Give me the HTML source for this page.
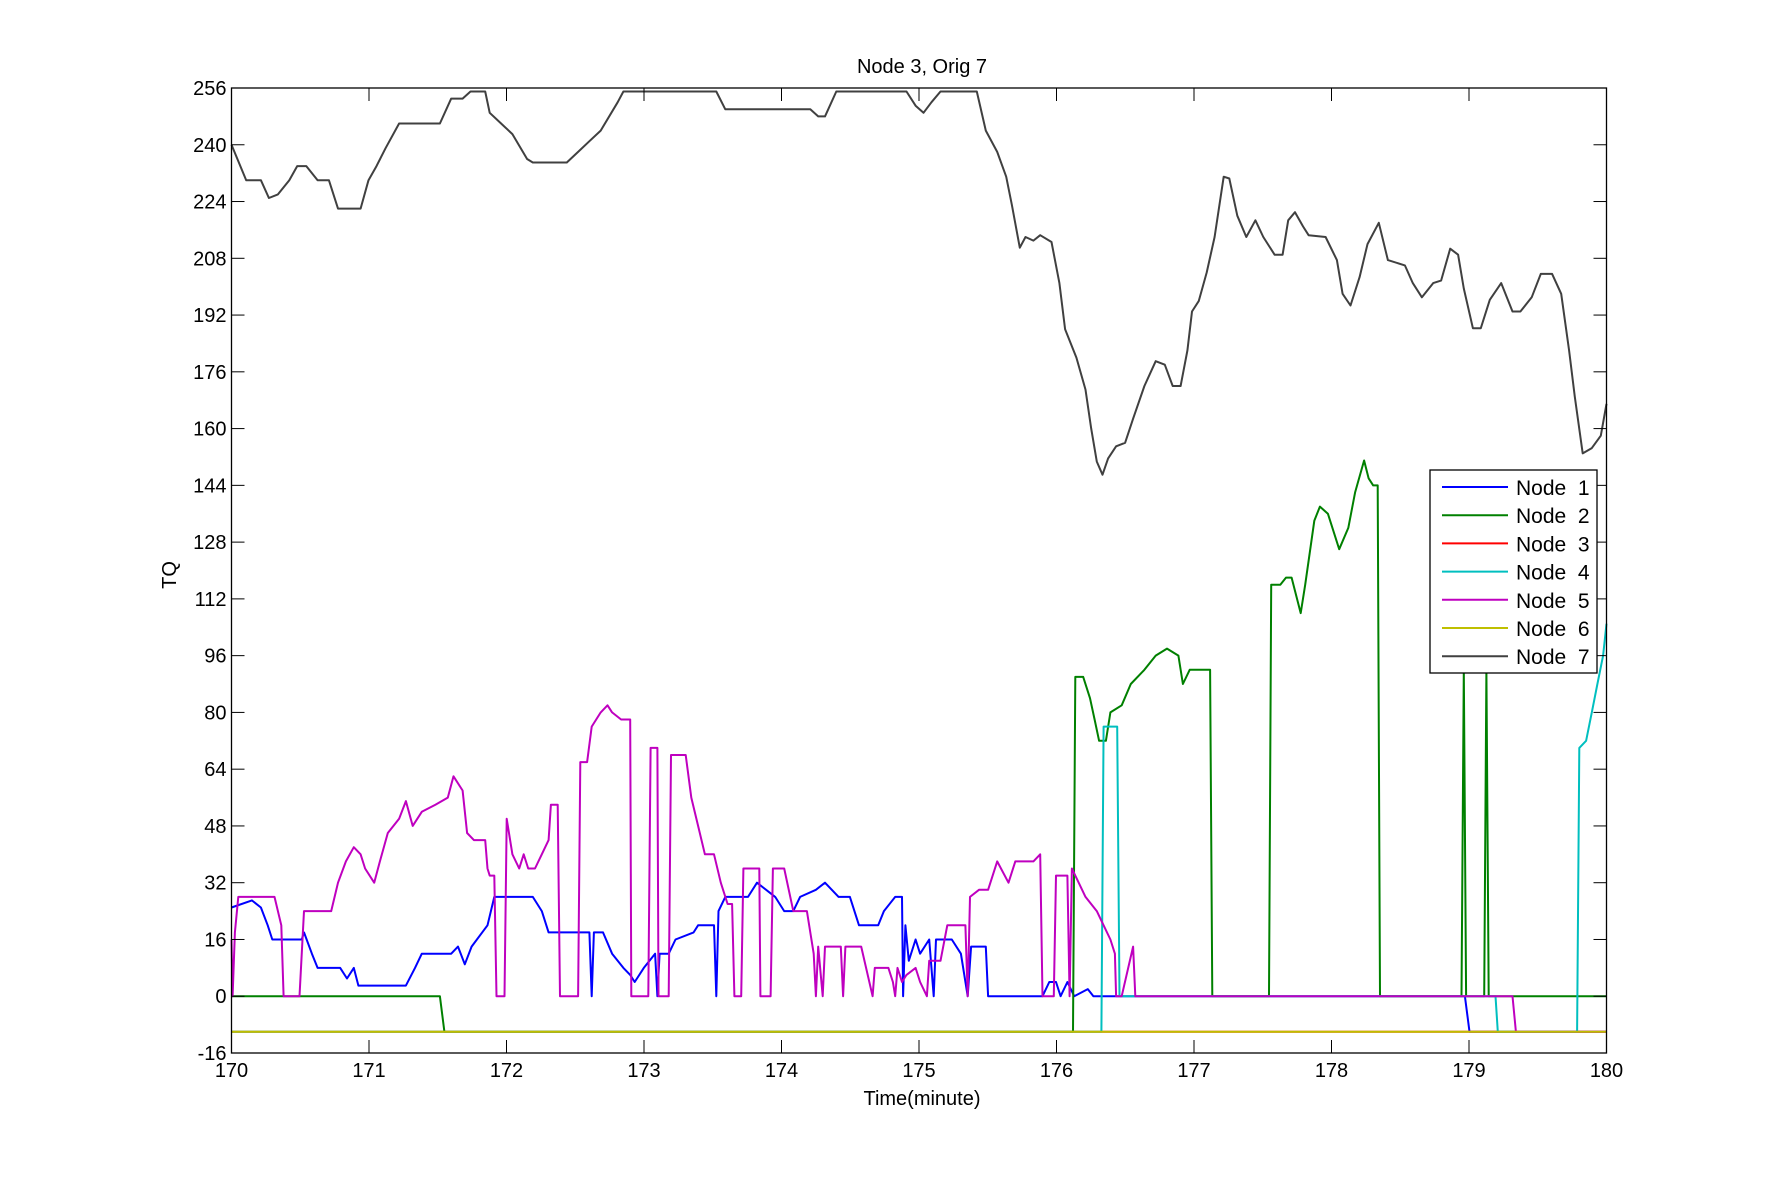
<!DOCTYPE html>
<html><head><meta charset="utf-8"><style>
html,body{margin:0;padding:0;background:#fff;}
svg{display:block;font-family:"Liberation Sans",Arial,sans-serif;}
</style></head><body>
<svg id="chart" width="1775" height="1183" viewBox="0 0 1775 1183">
<rect x="0" y="0" width="1775" height="1183" fill="#fff"/>
<text x="922" y="73" font-size="20" text-anchor="middle">Node 3, Orig 7</text>
<text x="922" y="1105" font-size="20" text-anchor="middle">Time(minute)</text>
<text x="0" y="0" font-size="20" text-anchor="middle" transform="translate(176,575) rotate(-90)">TQ</text>
<g id="series"></g>
<g id="axes"></g>
<g id="legend"></g>
</svg>
<script>
const xTicks=[170,171,172,173,174,175,176,177,178,179,180];
const yTicks=[256,240,224,208,192,176,160,144,128,112,96,80,64,48,32,16,0,-16];
const seriesNames=["Node  1","Node  2","Node  3","Node  4","Node  5","Node  6","Node  7"];
const seriesColors=["#0000ff","#008000","#ff0000","#00bfbf","#bf00bf","#bfbf00","#404040"];
const n7x=[204,217,230,237,245,255,262,270,280,290,298,318,325,332,340,352,388,398,408,415,428,432,442,452,465,470,500,510,520,530,545,550,632,640,715,722,728,738,800,808,815,822,830,862,870,880,888,893,900,905,912,918,928,935,940,950,958,963,968,973,978,985,993,1000,1010,1020,1028,1035,1042,1048,1052,1058,1065,1072,1080,1085,1092,1100,1108,1115,1125,1132,1137,1143,1150,1155,1170,1180,1185,1192,1200,1207,1217,1225,1240,1247,1255,1265,1272,1280,1287,1292,1300,1307,1315,1325,1335,1342,1352,1360,1370,1378,1385,1390,1397,1405,1413,1418];
const n7v=[240,230,230,225,226,230,234,234,230,230,222,222,230,234,239,246,246,253,253,255,255,249,246,243,236,235,235,238,241,244,252,255,255,250,250,248,248,255,255,251,249,252,255,255,244,238,231,223,211,214,213,214.5,212.6,201,188,180,171,160,150.7,147,151.6,155,156,162.8,172,179,178,172,172,182,193,196,204,214,231,230.5,220,214,218.7,214,209,209,218.7,221,217,214.5,214,207.5,198,194.7,202.7,212,218,207.5,206,201,197,201,201.7,210.7,209,199.5,188.3,188.3,196.3,201,193,193,197,203.6,203.6,198,182,169,153,154.5,158,167];
const n1x=[204,222,230,236,240,266,268,275,280,300,306,312,316,358,366,372,398,404,410,416,430,436,470,478,484,520,522,524,532,540,550,556,560,568,578,580,582,590,596,612,616,630,632,634,640,660,668,684,692,700,706,720,728,740,750,758,775,780,790,796,797,799,802,808,812,820,824,826,840,848,854,857,870,872,890,920,926,932,936,942,948,960,965,1293,1297,1418];
const n1v=[25,27,25,20,16,16,18,12,8,8,5,8,3,3,8,12,12,14,9,14,20,28,28,24,18,18,0,18,18,12,8,6,4,8,12,0,12,12,16,18,20,20,0,24,28,28,32,28,24,24,28,30,32,28,28,20,20,24,28,28,0,20,10,16,12,16,0,16,16,12,0,14,14,0,0,0,4,4,0,4,0,2,0,0,-10,-10];
const n2x=[204,388,392,947,949,956,962,966,970,976,980,990,998,1010,1020,1030,1040,1044,1050,1068,1070,1120,1122,1130,1135,1140,1148,1152,1160,1165,1172,1182,1190,1196,1204,1208,1212,1216,1218,1290,1292,1294,1310,1312,1314,1418];
const n2v=[0,0,-10,-10,90,90,84,78,72,72,80,82,88,92,96,98,96,88,92,92,0,0,116,116,118,118,108,116,134,138,136,126,132,142,151,146,144,144,0,0,92,0,0,92,0,0];
const n3x=[204,1418];
const n3v=[-10,-10];
const n4x=[204,972,974,978,986,988,1320,1322,1392,1394,1400,1405,1410,1415,1418];
const n4v=[-10,-10,76,76,76,0,0,-10,-10,70,72,80,88,96,105];
const n5x=[204,205,207,210,242,248,250,264,268,292,298,305,312,318,322,330,335,342,352,358,364,372,384,395,400,408,412,418,428,430,432,436,438,445,447,452,458,462,466,472,478,484,486,492,494,510,512,518,522,530,536,540,548,556,557,572,574,580,581,590,592,605,610,616,622,630,636,642,646,648,654,656,670,671,680,682,692,700,712,718,720,722,726,728,742,744,746,760,770,772,784,788,790,792,796,800,808,812,818,820,830,836,852,854,856,864,872,880,890,896,912,918,920,930,932,942,944,946,952,958,968,974,980,984,985,990,1000,1002,1335,1338,1418];
const n5v=[16,0,18,28,28,20,0,0,24,24,32,38,42,40,36,32,38,46,50,55,48,52,54,56,62,58,46,44,44,36,34,34,0,0,50,40,36,40,36,36,40,44,54,54,0,0,66,66,76,80,82,80,78,78,0,0,70,70,0,0,68,68,56,48,40,40,32,26,26,0,0,36,36,0,0,36,36,24,24,12,0,14,0,14,14,0,14,14,0,8,8,4,0,8,4,6,8,4,0,10,10,20,20,0,28,30,30,38,32,38,38,40,0,0,34,34,0,36,32,28,24,20,16,12,0,0,14,0,0,-10,-10];
const n6x=[204,1418];
const n6v=[-10,-10];

const L=231.5,R=1606.5,T=88,B=1053;
const toMin=px=>170+(px-204)/121.4;
const xs=t=>L+(t-170)/10*(R-L);
const ys=v=>T+(256-v)/272*(B-T);
const NS="http://www.w3.org/2000/svg";
function mk(tag,attrs,parent){const e=document.createElementNS(NS,tag);for(const k in attrs)e.setAttribute(k,attrs[k]);parent.appendChild(e);return e;}
const allX=[n1x,n2x,n3x,n4x,n5x,n6x,n7x];
const allV=[n1v,n2v,n3v,n4v,n5v,n6v,n7v];
const sg=document.getElementById('series');
for(let i=0;i<7;i++){
  const pts=allX[i].map((px,j)=>xs(toMin(px)).toFixed(1)+','+ys(allV[i][j]).toFixed(1)).join(' ');
  const pl=mk('polyline',{points:pts,fill:'none',stroke:seriesColors[i],'stroke-width':2,'stroke-linejoin':'round'},sg);
  
  
}
const ag=document.getElementById('axes');
const box=mk('rect',{x:L,y:T,width:R-L,height:B-T,fill:'none',stroke:'#000','stroke-width':1.3},ag);


xTicks.forEach(t=>{
  const x=xs(t);
  mk('line',{x1:x,y1:B,x2:x,y2:B-13,stroke:'#000','stroke-width':1},ag);
  mk('line',{x1:x,y1:T,x2:x,y2:T+13,stroke:'#000','stroke-width':1},ag);
  const tx=mk('text',{x:x,y:B+24,'font-size':20,'text-anchor':'middle'},ag);
  tx.textContent=t;
  
  
});
yTicks.forEach(v=>{
  const y=ys(v);
  mk('line',{x1:L,y1:y,x2:L+13,y2:y,stroke:'#000','stroke-width':1},ag);
  mk('line',{x1:R,y1:y,x2:R-13,y2:y,stroke:'#000','stroke-width':1},ag);
  const tx=mk('text',{x:L-5,y:y+7,'font-size':20,'text-anchor':'end'},ag);
  tx.textContent=v;
  
  
});
const lg=document.getElementById('legend');
const lb=mk('rect',{x:1430,y:470,width:167,height:203,fill:'#fff',stroke:'#000','stroke-width':1.3},lg);


seriesNames.forEach((n,i)=>{
  const y=487+i*28.2;
  const g=mk('g',{},lg);
  
  
  mk('line',{x1:1442,y1:y,x2:1508,y2:y,stroke:seriesColors[i],'stroke-width':2},g);
  const tx=mk('text',{x:1516,y:y+8,'font-size':21},g);
  tx.style.whiteSpace='pre';
  tx.textContent=n;
});
</script>
</body></html>
